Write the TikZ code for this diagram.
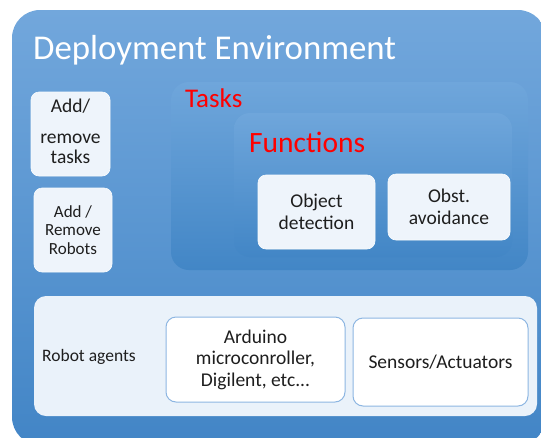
\documentclass[tikz,border=0pt]{standalone}
\usepackage{fontspec}
\setmainfont{Carlito}
\definecolor{envtop}{HTML}{72A7DC}
\definecolor{envbot}{HTML}{4285C6}
\definecolor{grptop}{HTML}{6FA6DB}
\definecolor{grpbot}{HTML}{4286C6}
\definecolor{boxfill}{HTML}{EEF4FB}
\definecolor{agentfill}{HTML}{EAF2FA}
\definecolor{hwborder}{HTML}{8DB6E2}
\definecolor{txt}{HTML}{1E1E1E}
\definecolor{redlab}{HTML}{FF0000}
\tikzset{
  envbox/.style={rounded corners=28pt, top color=envtop, bottom color=envbot, draw=none, inner sep=0pt},
  grpbox/.style={rounded corners=18pt, top color=grptop, bottom color=grpbot, draw=none, inner sep=0pt},
  smallbox/.style={rounded corners=8pt, fill=boxfill, draw=white!60!boxfill, line width=0.6pt, inner sep=0pt, align=center, text=txt, font=\fontsize{19.5}{22}\selectfont},
  agentbox/.style={rounded corners=12pt, fill=agentfill, draw=none, inner sep=0pt},
  hwbox/.style={rounded corners=10pt, fill=white, draw=hwborder, line width=1pt, inner sep=0pt, align=center, text=txt, font=\fontsize{19.5}{21.5}\selectfont},
  redlabel/.style={text=redlab, inner sep=0pt, anchor=base west},
}
\begin{document}
\begin{tikzpicture}[x=1pt,y=-1pt]
\useasboundingbox (0,0) rectangle (541,437);
\begin{scope}
\clip (0,0) rectangle (541,437);
\node[envbox, minimum width=534pt, minimum height=435pt] (env) at (279,227.5) {};
\end{scope}
\node[anchor=base west, inner sep=0pt, text=white, font=\fontsize{34.8}{40}\selectfont] (title) at (33,59) {Deployment Environment};

% left boxes
\node[smallbox, minimum width=79pt, minimum height=84pt] (addtasks) at (70.5,134) {};
\node[anchor=base, inner sep=0pt, text=txt, font=\fontsize{19.5}{22}\selectfont] (addtasksA) at (70.5,112) {Add/};
\node[anchor=base, inner sep=0pt, text=txt, font=\fontsize{19.5}{22}\selectfont] (addtasksB) at (70.5,143) {remove};
\node[anchor=base, inner sep=0pt, text=txt, font=\fontsize{19.5}{22}\selectfont] (addtasksC) at (70.5,163) {tasks};

\node[smallbox, minimum width=78pt, minimum height=84pt, font=\fontsize{17}{18.5}\selectfont] (addrobots) at (73,230) {Add /\\Remove\\Robots};

% tasks / functions
\node[grpbox, minimum width=357pt, minimum height=188pt] (tasks) at (349.5,176) {};
\node[redlabel, font=\fontsize{27}{30}\selectfont] (taskslab) at (185,107) {Tasks};
\node[grpbox, rounded corners=16pt, minimum width=278pt, minimum height=144pt] (functions) at (373,185) {};
\node[redlabel, font=\fontsize{29.5}{32}\selectfont] (funclab) at (249,152) {Functions};

\node[smallbox, minimum width=117pt, minimum height=74pt] (objdet) at (316.5,212) {Object\\detection};
\node[smallbox, minimum width=122pt, minimum height=66pt] (obstav) at (449,207) {Obst.\\avoidance};

% robot agents
\node[agentbox, minimum width=503pt, minimum height=120pt] (agents) at (285.5,356) {};
\node[anchor=base west, inner sep=0pt, text=txt, font=\fontsize{17.5}{20}\selectfont] (agentslab) at (42,361) {Robot agents};
\node[hwbox, minimum width=179pt, minimum height=85pt] (arduino) at (255.5,359.5) {Arduino\\microconroller,\\Digilent, etc...};
\node[hwbox, minimum width=175pt, minimum height=88pt] (sensors) at (440.5,362) {Sensors/Actuators};
\end{tikzpicture}
\end{document}
